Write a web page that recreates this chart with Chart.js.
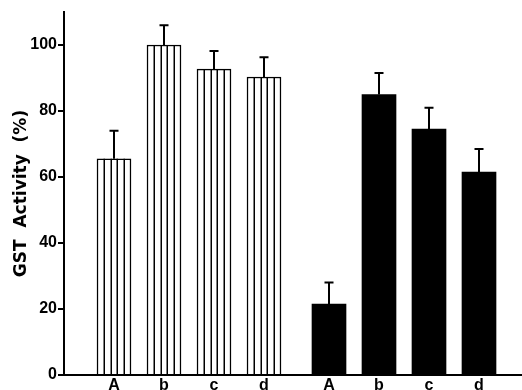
<!DOCTYPE html>
<html>
<head>
<meta charset="utf-8">
<script src="https://cdn.jsdelivr.net/npm/chart.js@4.4.1/dist/chart.umd.min.js"></script>
<style>
html,body{margin:0;padding:0;background:#fff;}
#wrap{width:522px;height:390px;position:relative;}
</style>
</head>
<body>
<div id="wrap"><canvas id="c" width="522" height="390"></canvas></div>
<script>
// ---- data ----
const categories = ['A', 'b', 'c', 'd'];
const hatchedValues = [65.5, 100, 92.7, 90.3];
const hatchedErrors = [8.5, 6, 5.5, 6];
const solidValues = [21.5, 85, 74.5, 61.5];
const solidErrors = [6.5, 6.5, 6.5, 7];
const yTicks = [0, 20, 40, 60, 80, 100];

// layout helpers (category slot index -> x position on a linear axis)
const groupGap = 0.3;
const hatchedX = categories.map((_, i) => i + 1);
const solidX = categories.map((_, i) => i + 1 + categories.length + groupGap);
const tickPositions = hatchedX.concat(solidX);
const tickLabels = categories.concat(categories);

const hatchedData = hatchedValues.map((v, i) => ({x: hatchedX[i], y: v}));
const solidData = solidValues.map((v, i) => ({x: solidX[i], y: v}));

const FONT = "'Liberation Sans', Arial, Helvetica, sans-serif";
const TITLE_FONT = "'DejaVu Sans', 'Liberation Sans', sans-serif";

const decorPlugin = {
  id: 'decor',
  afterDatasetsDraw(chart) {
    const ctx = chart.ctx;
    const yScale = chart.scales.y;
    // hatch lines inside the striped bars
    const m0 = chart.getDatasetMeta(0);
    ctx.save();
    ctx.strokeStyle = '#000';
    ctx.lineWidth = 1.5;
    m0.data.forEach(el => {
      const w = el.width;
      const left = el.x - w / 2;
      for (let k = 1; k < 5; k++) {
        const x = Math.round(left + k * w / 5) + 0.25;
        ctx.beginPath();
        ctx.moveTo(x, el.y);
        ctx.lineTo(x, el.base);
        ctx.stroke();
      }
    });
    // error bars (upper only)
    const errs = [hatchedErrors, solidErrors];
    const vals = [hatchedValues, solidValues];
    ctx.lineWidth = 2;
    [0, 1].forEach(di => {
      const meta = chart.getDatasetMeta(di);
      meta.data.forEach((el, i) => {
        const yTop = yScale.getPixelForValue(vals[di][i] + errs[di][i]);
        const x = Math.round(el.x);
        ctx.beginPath();
        ctx.moveTo(x, el.y);
        ctx.lineTo(x, yTop);
        ctx.moveTo(x - 4.5, yTop);
        ctx.lineTo(x + 4.5, yTop);
        ctx.stroke();
      });
    });
    ctx.restore();
  }
};

new Chart(document.getElementById('c'), {
  type: 'bar',
  data: {
    datasets: [
      {
        data: hatchedData,
        backgroundColor: '#ffffff',
        borderColor: '#000000',
        borderWidth: 1.5,
        barThickness: 34,
        grouped: false
      },
      {
        data: solidData,
        backgroundColor: '#000000',
        borderColor: '#000000',
        borderWidth: 0,
        barThickness: 34,
        grouped: false
      }
    ]
  },
  options: {
    responsive: false,
    animation: false,
    devicePixelRatio: 1,
    layout: {padding: {left: 0, right: 0, top: 12, bottom: 0}},
    plugins: {legend: {display: false}, tooltip: {enabled: false}},
    scales: {
      x: {
        type: 'linear',
        offset: false,
        min: 0,
        max: 9.16,
        afterBuildTicks(axis) { axis.ticks = tickPositions.map(v => ({value: v})); },
        afterFit(axis) { axis.height = 15; },
        ticks: {
          autoSkip: false,
          maxRotation: 0,
          padding: 1,
          color: '#000',
          font: {family: FONT, size: 16, weight: 'bold'},
          callback: (v, i) => tickLabels[i]
        },
        grid: {display: false, drawTicks: false},
        border: {display: true, color: '#000', width: 2}
      },
      y: {
        min: 0,
        max: 110,
        afterBuildTicks(axis) { axis.ticks = yTicks.map(v => ({value: v})); },
        afterFit(axis) { axis.width = 64; },
        ticks: {
          padding: 1,
          color: '#000',
          font: {family: FONT, size: 16, weight: 'bold'}
        },
        grid: {drawOnChartArea: false, drawTicks: true, tickLength: 6, color: '#000', lineWidth: 2},
        border: {display: true, color: '#000', width: 2},
        title: {
          display: true,
          text: 'GST  Activity  (%)',
          color: '#000',
          font: {family: TITLE_FONT, size: 17, weight: 'bold'},
          padding: {top: 11, bottom: 0}
        }
      }
    }
  },
  plugins: [decorPlugin]
});
</script>
</body>
</html>
